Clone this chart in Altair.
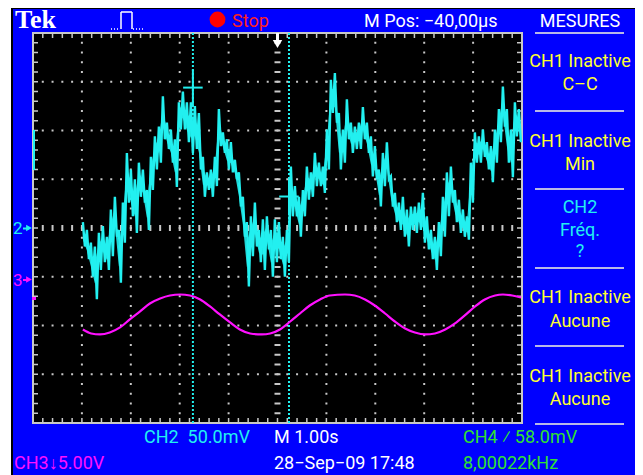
import altair as alt
import pandas as pd

# CH2 (cyan), 50 mV/div, ground at screen centre. Upper / lower edge of the noisy trace per sample.
CH2_HI_MV = [6, -2, -15, -19, -5, 2, -9, 19, 32, -2,
             26, 77, 60, 50, 67, 60, 39, 73, 94, 104,
             135, 108, 101, 91, 129, 140, 129, 129, 125, 118,
             73, 57, 60, 73, 122, 98, 91, 88, 70, 57,
             32, 6, 12, 26, -2, 9, 12, -2, 9, 6,
             -9, -2, 63, 43, 32, 39, 63, 57, 77, 67,
             63, 101, 152, 159, 118, 101, 132, 108, 104, 108,
             124, 108, 94, 84, 60, 77, 88, 53, 36, 26,
             32, 19, 22, 22, 26, 36, 12, -2, -9, 6,
             32, 57, 63, 39, 29, 19, 12, 67, 98, 94,
             101, 88, 84, 101, 122, 145, 122, 101, 129, 122]
CH2_LO_MV = [-19, -32, -50, -73, -43, -35, -43, -29, -9, -56,
             -15, 26, 12, -5, 32, 26, -2, 39, 60, 67,
             91, 81, 67, 42, 101, 101, 88, 77, 81, 60,
             32, 39, 32, 43, 84, 77, 60, 57, 50, 22,
             -9, -60, -29, -19, -35, -43, -22, -50, -35, -32,
             -50, -35, 12, 12, -9, 12, 29, 32, 43, 43,
             36, 60, 118, 108, 60, 67, 91, 77, 81, 81,
             91, 77, 53, 50, 22, 43, 50, 22, 6, -2,
             -9, -19, -2, -5, -2, -15, -22, -32, -43, -29,
             -9, 12, 26, 6, -5, -9, -12, 26, 67, 67,
             73, 60, 47, 67, 88, 104, 67, 52, 94, 88]
CH2_T0 = -3.98      # s, first sample
CH2_DT = 0.0818     # s, sample clock
CH2_MV_PER_DIV = 50.0

# CH3 (magenta), 5 V/div
CH3_T = [-3.98, -3.81, -3.63, -3.43, -3.22, -3.02, -2.81, -2.61, -2.40, -2.20,
         -1.99, -1.79, -1.58, -1.38, -1.18, -0.97, -0.77, -0.56, -0.32, -0.15,
         0.05, 0.26, 0.46, 0.66, 0.87, 1.07, 1.38, 1.58, 1.79, 1.99,
         2.20, 2.40, 2.61, 2.81, 3.02, 3.22, 3.43, 3.63, 3.83, 4.04,
         4.24, 4.45, 4.61, 4.80, 4.98]
CH3_V = [-5.13, -5.54, -5.64, -5.44, -4.92, -4.10, -3.28, -2.46, -1.95, -1.64,
         -1.54, -1.64, -2.05, -2.77, -3.59, -4.41, -5.13, -5.54, -5.64, -5.54,
         -5.13, -4.31, -3.49, -2.67, -2.05, -1.64, -1.54, -1.64, -2.05, -2.67,
         -3.49, -4.31, -5.03, -5.44, -5.64, -5.54, -5.13, -4.51, -3.69, -2.77,
         -2.05, -1.64, -1.54, -1.64, -1.85]
CH3_V_PER_DIV = 5.0
CH3_GROUND_DIV = -1.056

CURSOR_T = [-1.73, 0.235]
CURSOR_MARK_D = [2.88, 0.646]

# ---------------- styling ----------------
FONT = "Roboto, sans-serif"
FS = 18
BLUE = "#0000FF"
CYAN = "#22F0F0"
MAGENTA = "#FF10FF"
YELLOW = "#FFFF30"
GREEN = "#30E030"
GRID = "#C8C8C8"
SEP = "#B8B8E8"
NB = "\u00a0"

W, H = 489, 390
XS = alt.Scale(domain=[-5, 5], nice=False, zero=False)
YS = alt.Scale(domain=[-4, 4], nice=False, zero=False)
one = pd.DataFrame({"k": [0]})


def X(f):
    return alt.X(f, scale=XS, axis=None)


def Y(f):
    return alt.Y(f, scale=YS, axis=None)


def txt(s, x, y, color, size=FS, align="left", font=FONT, weight="normal"):
    return alt.Chart(one).mark_text(text=s, align=align, baseline="alphabetic", color=color,
                                    fontSize=size, font=font, fontWeight=weight).encode(
        x=alt.value(x), y=alt.value(y))


def rule(x1, y1, x2, y2, color, w=1.0, dash=None):
    kw = dict(color=color, strokeWidth=w)
    if dash:
        kw["strokeDash"] = dash
    return alt.Chart(one).mark_rule(**kw).encode(
        x=alt.value(x1), y=alt.value(y1), x2=alt.value(x2), y2=alt.value(y2))


def rect(x1, y1, x2, y2, color):
    return alt.Chart(one).mark_rect(color=color).encode(
        x=alt.value(x1), y=alt.value(y1), x2=alt.value(x2), y2=alt.value(y2))


layers = []
# frame + blue instrument background
layers.append(rect(-22, -26, 607, 450, "black"))
layers.append(rect(-20, -24, 604, 450, BLUE))
# black screen
layers.append(alt.Chart(one).mark_rect(color="black").encode(
    x=alt.XDatum(-5, scale=XS, axis=None), x2=alt.X2Datum(5),
    y=alt.YDatum(-4, scale=YS, axis=None), y2=alt.Y2Datum(4)))

# graticule dots
dots = []
for gx in range(-4, 5):
    if gx == 0:
        continue
    for k in range(-19, 20):
        dots.append({"t": gx, "d": k * 0.2})
for gy in range(-3, 4):
    if gy == 0:
        continue
    for k in range(-24, 25):
        dots.append({"t": k * 0.2, "d": gy})
layers.append(alt.Chart(pd.DataFrame(dots)).mark_square(size=4, color=GRID, opacity=1).encode(
    x=X("t:Q"), y=Y("d:Q")))

# centre cross ticks
cx = pd.DataFrame({"t": [k * 0.2 for k in range(-24, 25)]})
cy = pd.DataFrame({"d": [k * 0.2 for k in range(-19, 20)]})
layers.append(alt.Chart(cx).mark_rule(color=GRID, strokeWidth=2).encode(
    x=X("t:Q"), y=alt.value(H / 2 - 3), y2=alt.value(H / 2 + 3)))
layers.append(alt.Chart(cy).mark_rule(color=GRID, strokeWidth=2).encode(
    y=Y("d:Q"), x=alt.value(W / 2 - 3), x2=alt.value(W / 2 + 3)))

# border ticks
layers.append(alt.Chart(cx).mark_rule(color=GRID, strokeWidth=1.5).encode(
    x=X("t:Q"), y=alt.value(0), y2=alt.value(5)))
layers.append(alt.Chart(cx).mark_rule(color=GRID, strokeWidth=1.5).encode(
    x=X("t:Q"), y=alt.value(H - 5), y2=alt.value(H)))
layers.append(alt.Chart(cy).mark_rule(color=GRID, strokeWidth=1.5).encode(
    y=Y("d:Q"), x=alt.value(0), x2=alt.value(5)))
layers.append(alt.Chart(cy).mark_rule(color=GRID, strokeWidth=1.5).encode(
    y=Y("d:Q"), x=alt.value(W - 5), x2=alt.value(W)))
layers.append(alt.Chart(one).mark_rect(fillOpacity=0, stroke=GRID, strokeWidth=2).encode(
    x=alt.XDatum(-5, scale=XS, axis=None), x2=alt.X2Datum(5),
    y=alt.YDatum(-4, scale=YS, axis=None), y2=alt.Y2Datum(4)))

# cursors
layers.append(alt.Chart(pd.DataFrame({"t": CURSOR_T})).mark_rule(
    color=CYAN, strokeWidth=2, strokeDash=[2, 2]).encode(x=X("t:Q")))
cross = pd.DataFrame({"t": CURSOR_T, "d": CURSOR_MARK_D})
cross["t1"] = cross["t"] - 0.2
cross["t2"] = cross["t"] + 0.2
cross["d1"] = cross["d"] - 0.37
cross["d2"] = cross["d"] + 0.37
layers.append(alt.Chart(cross).mark_rule(color=CYAN, strokeWidth=2).encode(
    x=X("t1:Q"), x2="t2:Q", y=Y("d:Q")))
layers.append(alt.Chart(cross).mark_rule(color=CYAN, strokeWidth=2).encode(
    x=X("t:Q"), y=Y("d1:Q"), y2="d2:Q"))

# CH3 trace
ch3 = pd.DataFrame({"t": CH3_T, "d": [v / CH3_V_PER_DIV + CH3_GROUND_DIV for v in CH3_V]})
layers.append(alt.Chart(ch3).mark_line(color=MAGENTA, strokeWidth=2.2, interpolate="monotone").encode(
    x=X("t:Q"), y=Y("d:Q")))

# CH2 trace: filled band between noise edges + zig-zag edge
band = pd.DataFrame({
    "t": [CH2_T0 + i * CH2_DT for i in range(len(CH2_HI_MV))],
    "hi": [v / CH2_MV_PER_DIV for v in CH2_HI_MV],
    "lo": [v / CH2_MV_PER_DIV for v in CH2_LO_MV],
})
band["mid_hi"] = band["hi"] * 0.7 + band["lo"] * 0.3
band["mid_lo"] = band["hi"] * 0.3 + band["lo"] * 0.7
layers.append(alt.Chart(band).mark_area(color=CYAN, opacity=0.9).encode(
    x=X("t:Q"), y=Y("mid_hi:Q"), y2="mid_lo:Q"))
rows = []
for i, (hi, lo) in enumerate(zip(CH2_HI_MV, CH2_LO_MV)):
    t = CH2_T0 + i * CH2_DT
    rows.append({"t": t, "d": hi / CH2_MV_PER_DIV, "o": 2 * i})
    rows.append({"t": t + CH2_DT / 2, "d": lo / CH2_MV_PER_DIV, "o": 2 * i + 1})
layers.append(alt.Chart(pd.DataFrame(rows)).mark_line(color=CYAN, strokeWidth=2.4).encode(
    x=X("t:Q"), y=Y("d:Q"), order="o:Q"))

# trigger position marker
layers.append(alt.Chart(one).mark_rule(color="white", strokeWidth=3).encode(
    x=alt.XDatum(0, scale=XS, axis=None), y=alt.value(0), y2=alt.value(8)))
layers.append(alt.Chart(one).mark_point(shape="triangle-down", filled=True, size=90,
                                        color="white", opacity=1).encode(
    x=alt.XDatum(0, scale=XS, axis=None), y=alt.value(11)))

# channel ground markers on the left
layers.append(txt("2", -20, 201, CYAN, size=17))
layers.append(alt.Chart(one).mark_point(shape="triangle-right", filled=True, size=45,
                                        color=CYAN, opacity=1).encode(
    x=alt.value(-4), y=alt.YDatum(0, scale=YS, axis=None)))
layers.append(rule(-10, 195.5, -4, 195.5, CYAN, 2))
layers.append(txt("3", -20, 253, MAGENTA, size=17))
layers.append(alt.Chart(one).mark_point(shape="triangle-right", filled=True, size=45,
                                        color=MAGENTA, opacity=1).encode(
    x=alt.value(-4), y=alt.YDatum(CH3_GROUND_DIV, scale=YS, axis=None)))
layers.append(rule(-10, 247, -4, 247, MAGENTA, 2))
layers.append(rect(-1, 264, 3, 267, MAGENTA))
layers.append(rect(0, 97, 2, 137, CYAN))

# top bar
layers.append(txt("Tek", -18, -5, "white", size=26, font="Liberation Serif, DejaVu Serif, serif", weight="bold"))
# acquisition icon
layers.append(rule(78, -4, 87, -4, "white", 1.5, [1, 2]))
layers.append(rule(88, -21, 88, -4, "white", 1.5))
layers.append(rule(88, -21, 99, -21, "white", 1.5))
layers.append(rule(99, -21, 99, -4, "white", 1.5))
layers.append(rule(100, -4, 111, -4, "white", 1.5, [1, 2]))
layers.append(alt.Chart(one).mark_point(shape="circle", filled=True, size=250, color="#FF0000", opacity=1).encode(
    x=alt.value(184.5), y=alt.value(-13.5)))
layers.append(txt("Stop", 199, -6, "#FF2020"))
layers.append(txt("M Pos: −40,00µs", 331, -6, "white"))
layers.append(txt("MESURES", 547, -6, "white", align="center"))

# right menu
for yy in [0, 78, 156, 235, 313, 391]:
    layers.append(rule(502, yy, 591, yy, SEP, 2))
menu = [("CH1 Inactive", 34, YELLOW), ("C–C", 57, YELLOW),
        ("CH1 Inactive", 114, YELLOW), ("Min", 137, YELLOW),
        ("CH2", 180, CYAN), ("Fréq.", 203, CYAN), ("?", 224, CYAN),
        ("CH1 Inactive", 270, YELLOW), ("Aucune", 294, YELLOW),
        ("CH1 Inactive", 349, YELLOW), ("Aucune", 372, YELLOW)]
for s, yy, c in menu:
    layers.append(txt(s, 547, yy, c, align="center"))

# bottom status
layers.append(txt("CH2" + NB + NB + "50.0mV", 111, 410, CYAN))
layers.append(txt("M 1.00s", 241, 410, "white"))
layers.append(txt("CH4 ⁄ 58.0mV", 430, 410, GREEN))
layers.append(txt("CH3↓5.00V", -19, 436, MAGENTA))
layers.append(txt("28−Sep−09 17:48", 241, 436, "white"))
layers.append(txt("8,00022kHz", 430, 436, GREEN))

chart = alt.layer(*layers).properties(
    width=W, height=H,
    padding={"left": 25, "top": 25, "right": 113, "bottom": 52},
    autosize=alt.AutoSizeParams(type="none"),
    background="white",
).configure_view(stroke=None)

chart.save("out.html", embed_options={"renderer": "svg", "actions": False})
